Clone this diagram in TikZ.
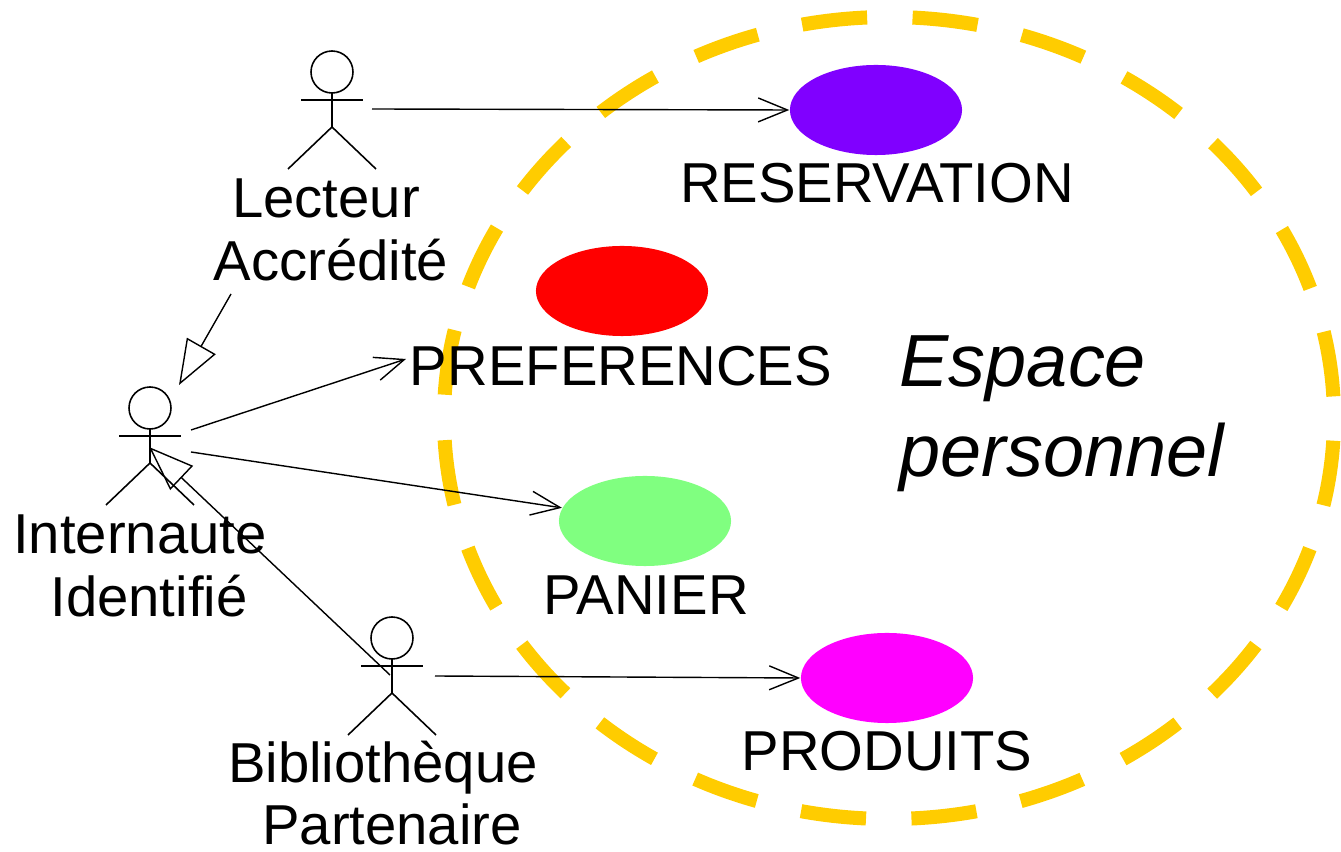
\documentclass[tikz,border=0pt]{standalone}
\usepackage{fontspec}
\setmainfont{Liberation Sans}
\usetikzlibrary{arrows.meta,shapes.geometric}
\definecolor{dashyellow}{HTML}{FFCC00}
\definecolor{ucpurple}{HTML}{8000FF}
\definecolor{ucred}{HTML}{FF0000}
\definecolor{ucgreen}{HTML}{80FF80}
\definecolor{ucmagenta}{HTML}{FF00FF}
\tikzset{
  actorline/.style={line width=0.45pt},
  actor/.pic={
    \draw[actorline] (0,0) circle [radius=21];
    \draw[actorline] (-31,28) -- (31,28);
    \draw[actorline] (0,21) -- (0,55);
    \draw[actorline] (-44,97) -- (0,55) -- (44,97);
  }
}
\begin{document}
\begin{tikzpicture}[x=0.01cm,y=-0.01cm,
  lbl/.style={inner sep=0pt,anchor=base,font=\fontsize{16}{18}\selectfont},
  bigital/.style={inner sep=0pt,anchor=base west,font=\fontsize{21}{24}\selectfont\itshape},
  uc/.style={ellipse,minimum width=1.72cm,minimum height=0.9cm,inner sep=0pt,draw=none},
  assoc/.style={line width=0.4pt,-{Straight Barb[length=8.3pt,width=6.8pt]}},
  gen/.style={line width=0.4pt,-{Triangle[open,length=12.8pt,width=9.4pt]}},
  border/.style={draw=dashyellow,line width=4pt,dash pattern=on 18.6pt off 12.93pt,dash phase=25.07pt}]
\useasboundingbox (0,0) rectangle (1341,852);
% system boundary
\draw[border] (889,418) ellipse [x radius=445, y radius=401];
% use cases
\node[uc,fill=ucpurple] (res) at (876,110) {};
\node[uc,fill=ucred] (pref) at (622,291) {};
\node[uc,fill=ucgreen] (pan) at (645,521) {};
\node[uc,fill=ucmagenta] (prod) at (887,678) {};
\node[lbl] (resL) at (877,203) {RESERVATION};
\node[lbl] (prefL) at (621,386) {PREFERENCES};
\node[lbl] (panL) at (646,615) {PANIER};
\node[lbl] (prodL) at (887,771) {PRODUITS};
\node[bigital] (esp1) at (899,387) {Espace};
\node[bigital] (esp2) at (899,477) {personnel};
% actors
\coordinate (lec) at (332,72);
\coordinate (int) at (150,408);
\coordinate (bib) at (392,638);
\pic at (lec) {actor};
\pic at (int) {actor};
\pic at (bib) {actor};
\node[lbl] (lecL1) at (326,218) {Lecteur};
\node[lbl] (lecL2) at (331,281) {Accrédité};
\node[lbl] (intL1) at (140,554) {Internaute};
\node[lbl] (intL2) at (149,617) {Identifié};
\node[lbl] (bibL1) at (383,783) {Bibliothèque};
\node[lbl] (bibL2) at (392,845) {Partenaire};
% connector ends
\coordinate (lecA) at (372,109);
\coordinate (lecG) at (231,294);
\coordinate (intTop) at (179,385);
\coordinate (intP) at (191,430);
\coordinate (intQ) at (191,452);
\coordinate (intB) at (149,447);
\coordinate (bibG) at (390,675);
\coordinate (bibA) at (435,676);
\coordinate (prefIn) at (406,359);
% connectors
\draw[assoc] (lecA) -- (res.west);
\draw[gen] (lecG) -- (intTop);
\draw[assoc] (intP) -- (prefIn);
\draw[assoc] (intQ) -- (pan.171);
\draw[gen] (bibG) -- (intB);
\draw[assoc] (bibA) -- (prod.west);
\end{tikzpicture}
\end{document}
